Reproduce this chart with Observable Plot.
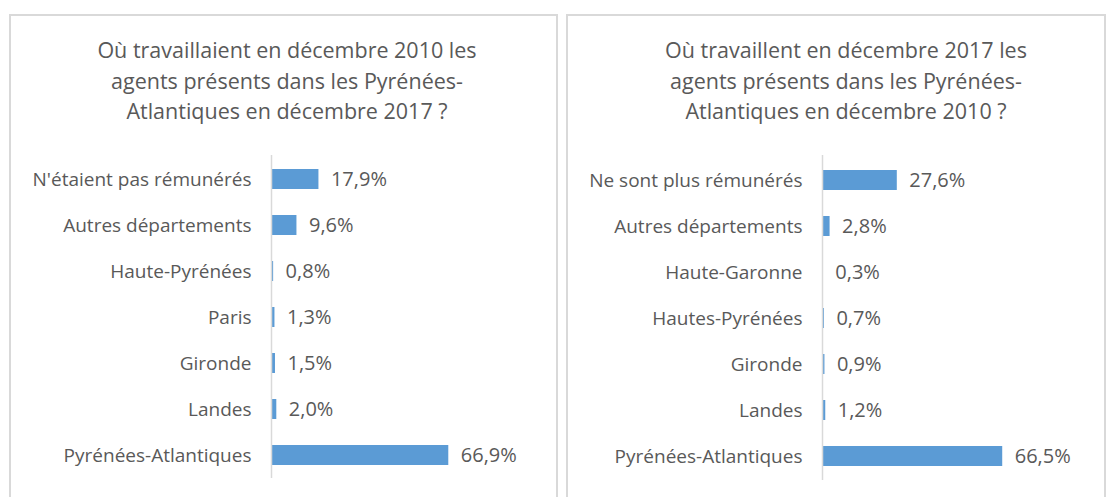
<!DOCTYPE html>
<html><head><meta charset="utf-8">
<script src="https://cdn.jsdelivr.net/npm/d3@7"></script>
<script src="https://cdn.jsdelivr.net/npm/@observablehq/plot@0.6"></script>
<style>
body{margin:0;background:#fff;font-family:"Open Sans",sans-serif;width:1110px;height:497px;overflow:hidden;position:relative;}
.panel{position:absolute;top:14px;height:600px;border:2px solid #d9d9d9;box-sizing:border-box;background:#fff;}
.title{position:absolute;top:19px;left:0;right:0;text-align:center;color:#595959;font-size:21.5px;line-height:30.5px;}
.chart{position:absolute;top:124px;left:0;}
</style>
</head><body>
<div class="panel" id="p1" style="left:9px;width:549px;"><div class="title" style="padding-left:7px;">Où travaillaient en décembre 2010 les<br>agents présents dans les Pyrénées-<br>Atlantiques en décembre 2017 ?</div><div class="chart" id="c1"></div></div>
<div class="panel" id="p2" style="left:566px;width:540px;"><div class="title" style="padding-left:20px;">Où travaillent en décembre 2017 les<br>agents présents dans les Pyrénées-<br>Atlantiques en décembre 2010 ?</div><div class="chart" id="c2"></div></div>
<script>
const leftCategories = ["N'étaient pas rémunérés","Autres départements","Haute-Pyrénées","Paris","Gironde","Landes","Pyrénées-Atlantiques"];
const leftValues = [17.9, 9.6, 0.8, 1.3, 1.5, 2.0, 66.9];
const rightCategories = ["Ne sont plus rémunérés","Autres départements","Haute-Garonne","Hautes-Pyrénées","Gironde","Landes","Pyrénées-Atlantiques"];
const rightValues = [27.6, 2.8, 0.3, 0.7, 0.9, 1.2, 66.5];

const fmt = v => v.toFixed(1).replace(".", ",") + "%";

function chart(cats, vals, o) {
  const data = cats.map((c, i) => ({cat: c, value: vals[i]}));
  return Plot.plot({
    width: o.width, height: 357,
    marginLeft: o.ml, marginRight: o.mr, marginTop: 15, marginBottom: o.mb,
    style: {fontFamily: "'Open Sans', sans-serif", fontSize: "19px", color: "#595959", background: "transparent"},
    x: {domain: [0, 100], axis: null},
    y: {domain: cats, paddingInner: 0.575, paddingOuter: o.po, tickSize: 0, tickPadding: 20, label: null},
    marks: [
      Plot.barX(data, {x: "value", y: "cat", fill: "#5B9BD5"}),
      Plot.ruleX([0], {stroke: "#d9d9d9", strokeWidth: 1.5}),
      Plot.text(data, {x: "value", y: "cat", text: d => fmt(d.value), textAnchor: "start", dx: 12, fill: "#595959", fontSize: 20})
    ]
  });
}
document.getElementById("c1").appendChild(chart(leftCategories, leftValues, {width: 545, ml: 260, mr: 20, mb: 19, po: 0.28}));
document.getElementById("c2").appendChild(chart(rightCategories, rightValues, {width: 536, ml: 254, mr: 11, mb: 17, po: 0.31}));
</script>
</body></html>
